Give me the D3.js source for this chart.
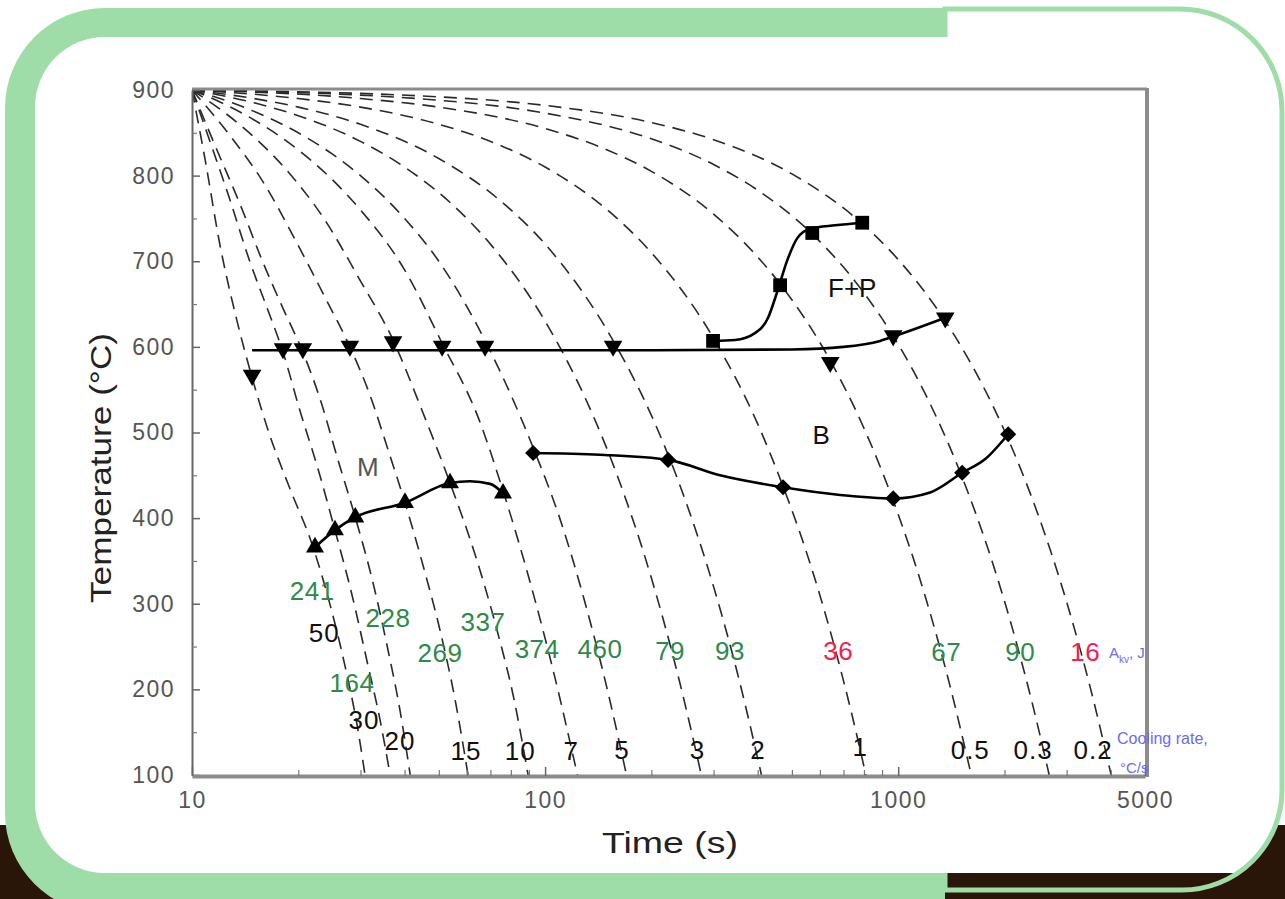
<!DOCTYPE html>
<html>
<head>
<meta charset="utf-8">
<script src="https://cdnjs.cloudflare.com/ajax/libs/d3/7.8.5/d3.min.js"></script>
<style>
body { margin: 0; background: #fff; }
svg { display: block; }
text { font-family: "Liberation Sans", Arial, sans-serif; }
</style>
</head>
<body>
<script>
//Global variables
var w = 1285;
var h = 899;

// cooling curves : [time (s), temperature (C)]
var rates = ["50", "30", "20", "15", "10", "7", "5", "3", "2", "1", "0.5", "0.3", "0.2"];
var curve50 = [[10,900],[10.9,818],[12.0,719],[13.4,631],[14.8,564],[16.6,497],[19.0,433],[21.9,369],[24.6,299],[27.1,228],[29.5,153],[30.9,100]];
var curve30 = [[10,900],[11.2,842],[12.8,772],[14.6,699],[16.4,643],[18.1,594],[20.2,526],[22.8,456],[25.4,386],[28.4,310],[31.5,228],[34.1,164],[36.4,100]];
var curve20 = [[10,900],[11.6,836],[13.7,766],[15.8,701],[18.1,645],[20.6,594],[23.1,538],[25.9,468],[29.0,401],[32.4,328],[35.9,246],[38.8,176],[41.5,100]];
var curve15 = [[10,900],[12.8,847],[16.1,789],[19.6,725],[23.8,658],[28.0,600],[31.9,544],[35.9,480],[40.1,418],[45.1,345],[50.4,269],[55.6,188],[60.5,100]];
var curve10 = [[10,900],[13.7,859],[18.3,809],[23.8,748],[29.9,678],[37.1,608],[44.8,526],[53.8,441],[63.4,357],[73.1,269],[81.7,188],[89.5,100]];
var curve7 = [[10,900],[12,886],[15,865],[20,830],[25,795],[30,760],[40,690],[51,605],[65,515],[76,432],[90,330],[105,225],[123.5,100]];
var curve5 = [[10,900],[13,885],[16,870],[20,850],[25,825],[30,800],[40,750],[50,700],[69,600],[93,480],[110,400],[130,300],[150,200],[170,100]];
var curve3 = [[10,900],[15,885],[20,870],[30,840],[40,810],[55,765],[70,720],[100,630],[130,540],[160,450],[200,330],[240,210],[277,100]];
var curve2 = [[10,900],[15,890],[20,880],[30,860],[50,820],[75,770],[100,720],[157,605],[200,520],[250,420],[300,320],[350,220],[410,100]];
var curve1 = [[10,900],[20,890],[30,880],[50,860],[75,835],[100,810],[150,760],[200,710],[300,610],[400,510],[472,437],[550,360],[650,260],[740,170],[810,100]];
var curve05 = [[10,900],[30,890],[50,880],[100,855],[150,830],[200,805],[300,755],[400,705],[466,672],[646,582],[800,505],[965,422],[1200,305],[1400,205],[1610,100]];
var curve03 = [[10,900],[50,888],[100,873],[200,843],[300,813],[400,783],[567,733],[800,663],[967,613],[1200,543],[1500,453],[1800,363],[2100,273],[2400,183],[2677,100]];
var curve02 = [[10,900],[50,892],[100,882],[200,862],[300,842],[500,802],[785,745],[1000,702],[1340,634],[1600,582],[2020,498],[2500,402],[3000,302],[3500,202],[4010,100]];
var coolingCurves = [curve50, curve30, curve20, curve15, curve10, curve7, curve5, curve3, curve2, curve1, curve05, curve03, curve02];

// impact energy A_kv (J) for each rate, red = low
var energies = ["241", "164", "228", "269", "337", "374", "460", "79", "93", "36", "67", "90", "16"];
var energyLow = [false, false, false, false, false, false, false, false, false, true, false, false, true];
var energyPos = [[21.9,315],[28.4,207],[35.9,283],[50.4,242],[66.7,279],[94.9,247],[143,247],[226,245],[334,245],[676,245],[1368,244],[2216,244],[3386,244]];
var ratePos = [[23.7,266],[30.7,164],[38.8,140],[59.7,128],[85.0,128],[118.5,128],[165,129],[270,129],[401,129],[781,133],[1600,129],[2410,129],[3565,129]];

// transformation lines
var ferriteLine = [[299,607],[345,608],[393,616],[428,634],[454,664],[485,701],[518,727],[563,738],[663,742],[791,745]];
var ferriteMarks = [[299,607],[463,672],[571,733],[791,745]];
var upperLine = [[14.8,596],[50,596],[200,596],[500,597],[700,600],[889,607],[968,612],[1360,634]];
var upperMarks = [[14.8,567],[18.1,598],[20.6,598],[28.0,601],[37.1,606],[51.1,601],[67.6,601],[155.8,601],[642,582],[968,613],[1359,634]];
var bainiteLine = [[92.5,476],[143,474],[223,468],[313,450],[472,436],[685,427],[968,423],[1232,430],[1518,453],[1764,469],[2049,498]];
var bainiteMarks = [[92.5,476],[223,468],[472,436],[968,423],[1518,453],[2049,498]];
var martLine = [[22.3,366],[25.4,386],[29.0,401],[40.1,418],[53.8,441],[61.3,443],[69.9,440],[76.0,429]];
var martMarks = [[22.3,366],[25.4,386],[29.0,401],[40.1,418],[53.8,441],[76.0,429]];

var phaseNames = ["F+P", "B", "M"];
var phasePos = [[741,669],[605,497],[31.5,460]];

var yTicks = [100, 200, 300, 400, 500, 600, 700, 800, 900];
var yMinor = [150, 250, 350, 450, 550, 650, 750, 850];
var xTicks = [10, 100, 1000, 5000];
var xMinor = [20, 30, 40, 50, 60, 70, 80, 90, 200, 300, 400, 500, 600, 700, 800, 900, 2000, 3000, 4000];

var green = "#9edca8";

var svg = d3.select("body")
	.append("svg")
	.attr("width", w)
	.attr("height", h);

// slide background
svg.append("rect")
	.attr("x", 0).attr("y", 825)
	.attr("width", w).attr("height", h - 825)
	.attr("fill", "#2a1609");

var outline = "M945,9 H1180 A102,102 0 0 1 1282,111 V790 A100,100 0 0 1 1182,890 H945 Z";
svg.append("path").attr("d", outline).attr("fill", "#fff");
svg.append("rect")
	.attr("x", 940).attr("y", 873)
	.attr("width", 345).attr("height", 30)
	.attr("fill", "#2a1609");
svg.append("path").attr("d", outline)
	.attr("fill", "none")
	.attr("stroke", green)
	.attr("stroke-width", 5);

svg.append("path")
	.attr("d", "M945,8 H105 A100,100 0 0 0 5,108 V813 A100,100 0 0 0 105,913 H945 Z")
	.attr("fill", green);

svg.append("rect")
	.attr("x", 35).attr("y", 37)
	.attr("width", 1240).attr("height", 836)
	.attr("rx", 70).attr("ry", 70)
	.attr("fill", "#fff");

// scales
var x_scale = d3.scaleLog()
	.domain([10, 5000])
	.range([192, 1145]);

var y_scale = d3.scaleLinear()
	.domain([100, 900])
	.range([775, 90]);

svg.append("clipPath")
	.attr("id", "plotclip")
	.append("rect")
	.attr("x", 192).attr("y", 89)
	.attr("width", 955).attr("height", 687);

var line = d3.line()
	.x(function(d) { return x_scale(d[0]); })
	.y(function(d) { return y_scale(d[1]); })
	.curve(d3.curveMonotoneX);

// cooling curves
svg.append("g")
	.attr("clip-path", "url(#plotclip)")
	.selectAll("path")
	.data(coolingCurves)
	.enter()
	.append("path")
	.attr("d", line)
	.attr("fill", "none")
	.attr("stroke", "#2a2a2a")
	.attr("stroke-width", 1.6)
	.attr("stroke-dasharray", "13,8");

// frame
svg.append("line")
	.attr("x1", 192).attr("y1", 89).attr("x2", 1147).attr("y2", 89)
	.attr("stroke", "#8c8c8c").attr("stroke-width", 3);
svg.append("line")
	.attr("x1", 1147).attr("y1", 88).attr("x2", 1147).attr("y2", 777)
	.attr("stroke", "#8c8c8c").attr("stroke-width", 4);

// axes
var y_axis = d3.axisLeft(y_scale)
	.tickValues(yTicks)
	.tickSize(-8)
	.tickSizeOuter(0)
	.tickPadding(17);
var gy = svg.append("g")
	.attr("transform", "translate(192,0)")
	.call(y_axis);
gy.select(".domain").attr("stroke", "#666").attr("stroke-width", 2);
gy.selectAll(".tick line").attr("stroke", "#666").attr("stroke-width", 1.5);
gy.selectAll("text")
	.attr("fill", "#555")
	.style("font-size", "23px")
	.style("letter-spacing", "1.5px");

svg.append("g")
	.attr("transform", "translate(192,0)")
	.call(d3.axisLeft(y_scale).tickValues(yMinor).tickSize(-5).tickFormat(""))
	.call(function(g) { g.select(".domain").remove(); })
	.selectAll("line").attr("stroke", "#777").attr("stroke-width", 1.2);

var x_axis = d3.axisBottom(x_scale)
	.tickValues(xTicks)
	.tickFormat(d3.format("d"))
	.tickSize(-9)
	.tickSizeOuter(0)
	.tickPadding(16);
var gx = svg.append("g")
	.attr("transform", "translate(0,776)")
	.call(x_axis);
gx.select(".domain").attr("stroke", "#8c8c8c").attr("stroke-width", 4);
gx.selectAll(".tick line").attr("stroke", "#666").attr("stroke-width", 1.5);
gx.selectAll("text")
	.attr("fill", "#555")
	.style("font-size", "23px")
	.style("letter-spacing", "1.5px");

svg.append("g")
	.attr("transform", "translate(0,776)")
	.call(d3.axisBottom(x_scale).tickValues(xMinor).tickSize(-6).tickFormat(""))
	.call(function(g) { g.select(".domain").remove(); })
	.selectAll("line").attr("stroke", "#777").attr("stroke-width", 1.2);

// axis titles
svg.append("text")
	.attr("x", 670).attr("y", 853)
	.attr("text-anchor", "middle")
	.attr("textLength", 136)
	.attr("lengthAdjust", "spacingAndGlyphs")
	.style("font-size", "29px")
	.attr("fill", "#222")
	.text("Time (s)");

svg.append("text")
	.attr("transform", "translate(111,468) rotate(-90)")
	.attr("text-anchor", "middle")
	.attr("textLength", 270)
	.attr("lengthAdjust", "spacingAndGlyphs")
	.style("font-size", "30px")
	.attr("fill", "#222")
	.text("Temperature (°C)");

// transformation lines
function drawLine(data) {
	svg.append("path")
		.attr("d", line(data))
		.attr("fill", "none")
		.attr("stroke", "#000")
		.attr("stroke-width", 2.6);
}
drawLine(ferriteLine);
drawLine(upperLine);
drawLine(bainiteLine);
drawLine(martLine);

function drawMarks(data, type, size, angle) {
	svg.append("g")
		.selectAll("path")
		.data(data)
		.enter()
		.append("path")
		.attr("d", d3.symbol().type(type).size(size))
		.attr("transform", function(d) {
			return "translate(" + x_scale(d[0]) + "," + y_scale(d[1]) + ") rotate(" + angle + ")";
		})
		.attr("fill", "#000");
}
drawMarks(ferriteMarks, d3.symbolSquare, 190, 0);
drawMarks(upperMarks, d3.symbolTriangle, 150, 180);
drawMarks(bainiteMarks, d3.symbolSquare, 130, 45);
drawMarks(martMarks, d3.symbolTriangle, 140, 0);

// phase fields
svg.selectAll(".phase")
	.data(phaseNames)
	.enter()
	.append("text")
	.attr("class", "phase")
	.attr("x", function(d, i) { return x_scale(phasePos[i][0]); })
	.attr("y", function(d, i) { return y_scale(phasePos[i][1]); })
	.attr("text-anchor", "middle")
	.attr("dominant-baseline", "central")
	.attr("fill", function(d) { return d == "M" ? "#555" : "#111"; })
	.style("font-size", "26px")
	.text(function(d) { return d; });

// impact energies
svg.selectAll(".energy")
	.data(energies)
	.enter()
	.append("text")
	.attr("class", "energy")
	.attr("x", function(d, i) { return x_scale(energyPos[i][0]); })
	.attr("y", function(d, i) { return y_scale(energyPos[i][1]); })
	.attr("text-anchor", "middle")
	.attr("dominant-baseline", "central")
	.attr("fill", function(d, i) { return energyLow[i] ? "#f5204d" : "#2f8a4a"; })
	.style("font-size", "26px")
	.style("letter-spacing", "0.5px")
	.text(function(d) { return d; });

// cooling rates
svg.selectAll(".rate")
	.data(rates)
	.enter()
	.append("text")
	.attr("class", "rate")
	.attr("x", function(d, i) { return x_scale(ratePos[i][0]); })
	.attr("y", function(d, i) { return y_scale(ratePos[i][1]); })
	.attr("text-anchor", "middle")
	.attr("dominant-baseline", "central")
	.attr("fill", "#111")
	.style("font-size", "26px")
	.style("letter-spacing", "1px")
	.text(function(d) { return d; });

// side notes
var akv = svg.append("text")
	.attr("x", 1109).attr("y", 658)
	.attr("fill", "#6b6bef")
	.style("font-size", "15px");
akv.append("tspan").text("A");
akv.append("tspan").attr("dy", 5).style("font-size", "10px").text("kv");
akv.append("tspan").attr("dy", -5).text(", J");

svg.append("text")
	.attr("x", 1117).attr("y", 744)
	.attr("fill", "#6b6bef")
	.style("font-size", "16px")
	.text("Cooling rate,");
svg.append("text")
	.attr("x", 1120).attr("y", 773)
	.attr("fill", "#6b6bef")
	.style("font-size", "15px")
	.text("°C/s");
</script>
</body>
</html>
